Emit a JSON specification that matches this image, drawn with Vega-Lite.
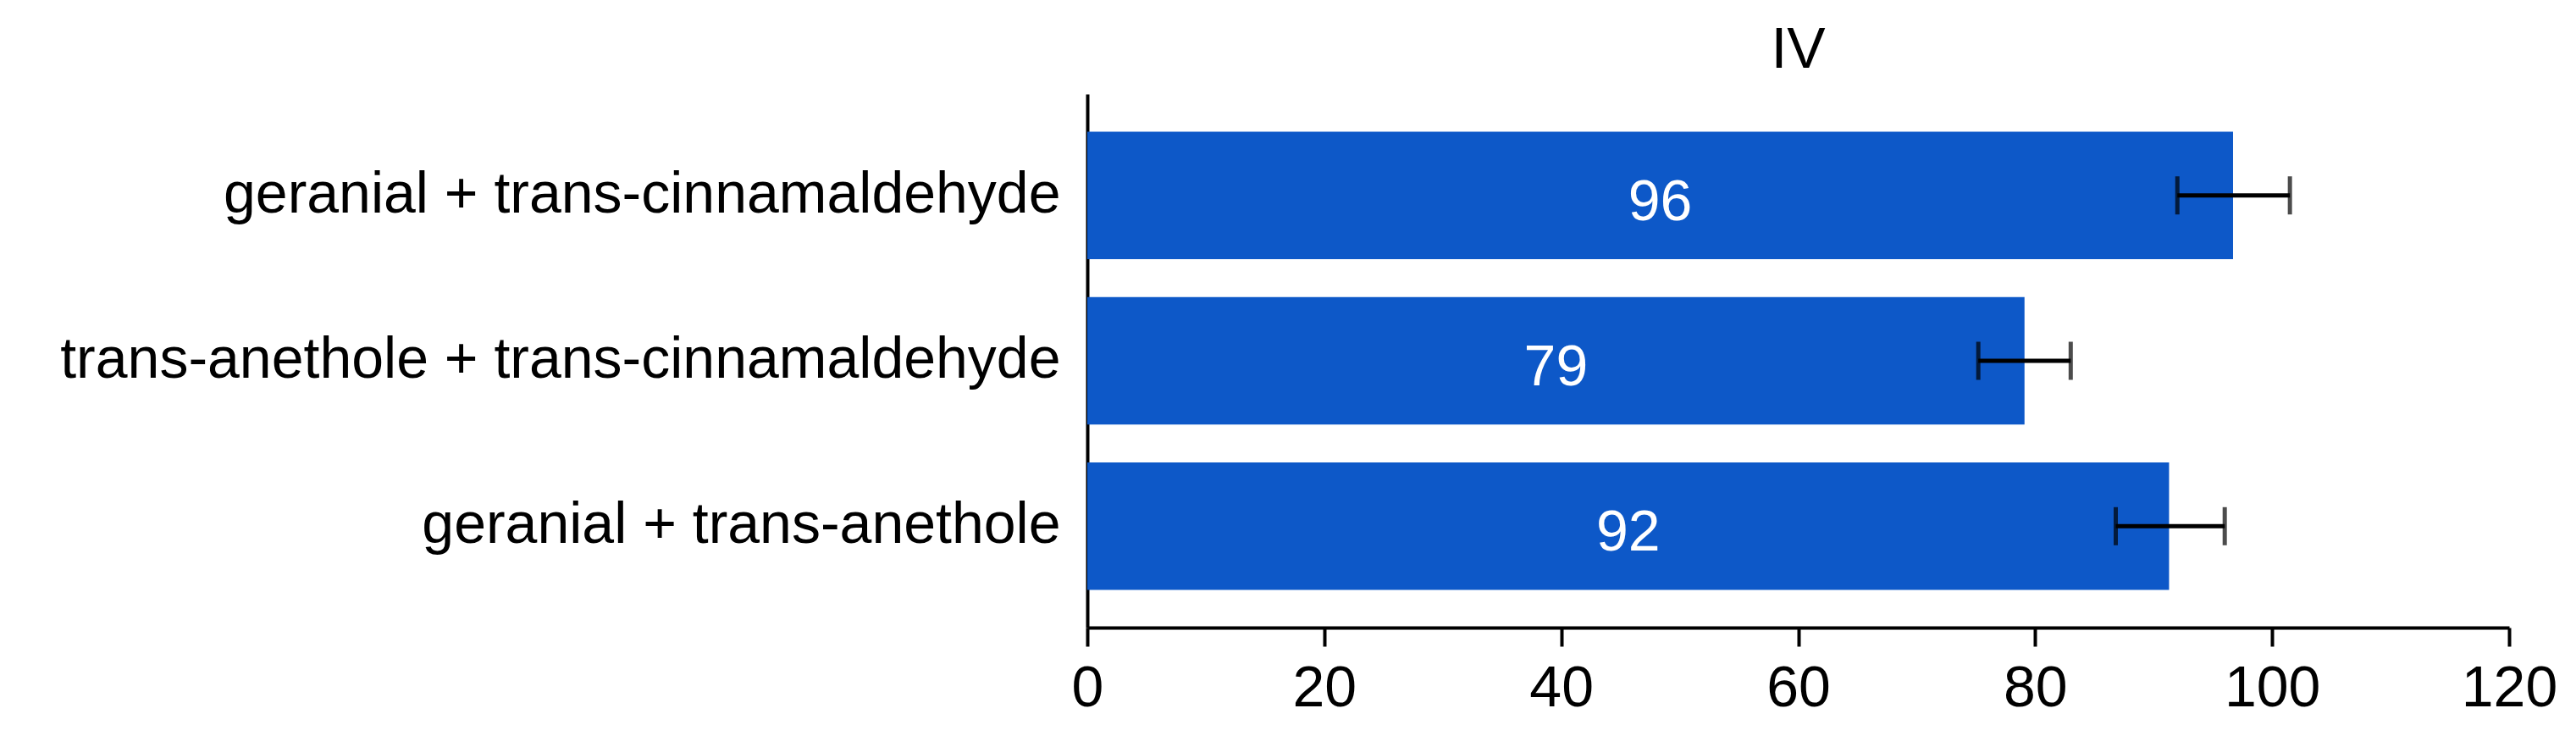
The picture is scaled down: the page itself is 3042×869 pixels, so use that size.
{
  "$schema": "https://vega.github.io/schema/vega-lite/v6.json",
  "autosize": {"type": "none"},
  "padding": {"left": 1284, "top": 111, "right": 79, "bottom": 128},
  "width": 1679,
  "height": 630,
  "background": "white",
  "title": {"text": "IV", "fontSize": 68, "font": "Liberation Sans", "fontWeight": "normal", "color": "black", "baseline": "bottom", "frame": "group", "offset": 18, "dy": 69, "anchor": "middle"},
  "config": {"view": {"stroke": null}, "font": "Liberation Sans"},
  "data": {"values": [
    {"pair": "geranial + trans-cinnamaldehyde", "value": 96.7, "lo": 92.0, "hi": 101.5, "label": "96"},
    {"pair": "trans-anethole + trans-cinnamaldehyde", "value": 79.1, "lo": 75.2, "hi": 83.0, "label": "79"},
    {"pair": "geranial + trans-anethole", "value": 91.3, "lo": 86.8, "hi": 96.0, "label": "92"}
  ]},
  "encoding": {
    "y": {"field": "pair", "type": "nominal", "sort": null,
      "scale": {"paddingInner": 0.23, "paddingOuter": 0.228},
      "axis": {"title": null, "ticks": false, "domainColor": "black", "domainWidth": 4, "labelFontSize": 68, "labelColor": "black", "labelPadding": 32, "labelLimit": 2000, "labelFont": "Liberation Sans"}}
  },
  "layer": [
    {"mark": {"type": "bar", "color": "#0d58c8"},
     "encoding": {
       "x": {"field": "value", "type": "quantitative",
         "scale": {"domain": [0, 120], "nice": false},
         "axis": {"title": null, "values": [0, 20, 40, 60, 80, 100, 120], "grid": false, "domainColor": "black", "domainWidth": 4, "tickColor": "black", "tickWidth": 4, "tickSize": 22, "labelFontSize": 68, "labelColor": "black", "labelPadding": 16, "labelFont": "Liberation Sans", "labelFlush": false}}
     }},
    {"transform": [{"calculate": "datum.value / 2", "as": "mid"}],
     "mark": {"type": "text", "color": "white", "fontSize": 68, "font": "Liberation Sans", "baseline": "middle", "align": "center", "dy": 9},
     "encoding": {
       "x": {"field": "mid", "type": "quantitative"},
       "text": {"field": "label"}
     }},
    {"mark": {"type": "rule", "color": "black", "strokeWidth": 5},
     "encoding": {
       "x": {"field": "lo", "type": "quantitative"},
       "x2": {"field": "hi"}
     }},
    {"mark": {"type": "tick", "color": "black", "thickness": 5, "size": 45, "orient": "vertical"},
     "encoding": {"x": {"field": "lo", "type": "quantitative"}}},
    {"mark": {"type": "tick", "color": "black", "thickness": 5, "size": 45, "orient": "vertical"},
     "encoding": {"x": {"field": "hi", "type": "quantitative"}}}
  ]
}
